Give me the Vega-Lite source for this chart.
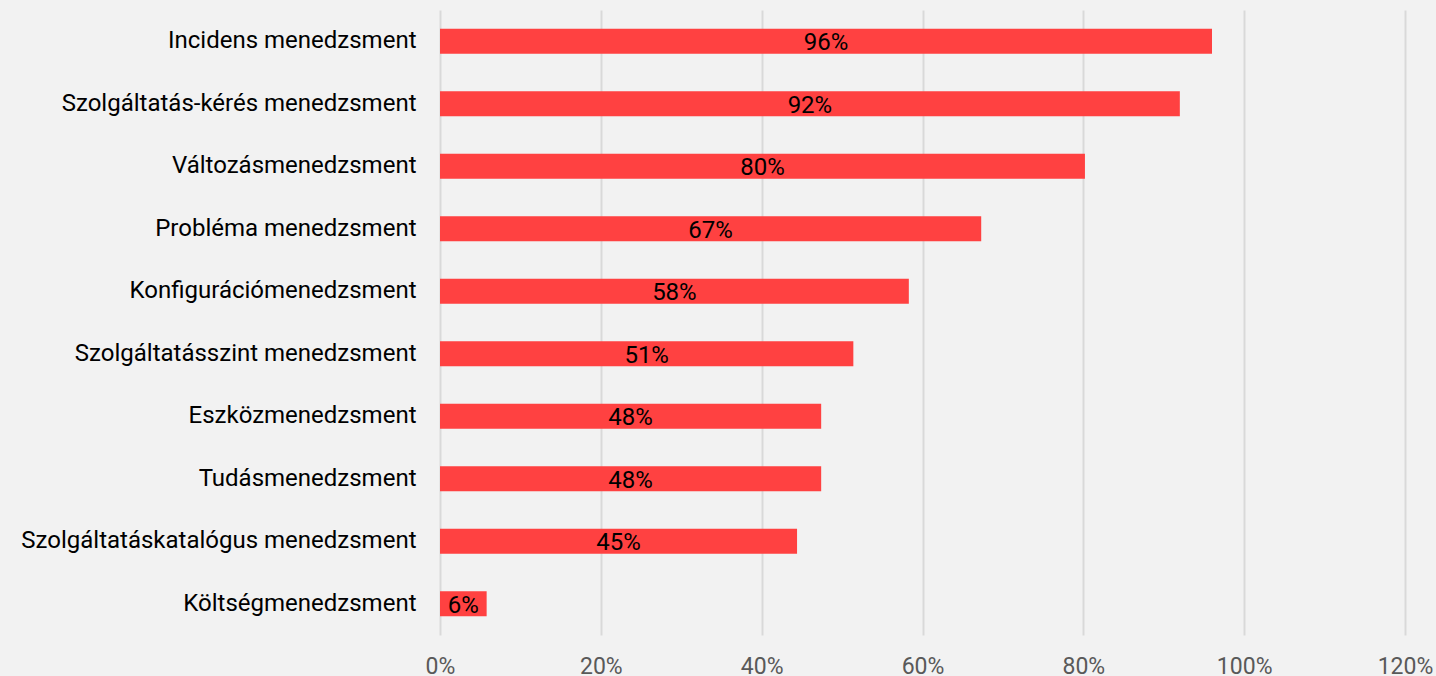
{
  "$schema": "https://vega.github.io/schema/vega-lite/v6.json",
  "autosize": "none",
  "width": 965,
  "height": 625,
  "padding": {"left": 440, "top": 10, "right": 31, "bottom": 41},
  "background": "#f2f2f2",
  "config": {
    "font": "Roboto",
    "view": {"stroke": null},
    "axis": {"labelFont": "Roboto"}
  },
  "data": {
    "values": [
      {"process": "Incidens menedzsment", "share": 0.96, "label": "96%"},
      {"process": "Szolgáltatás-kérés menedzsment", "share": 0.92, "label": "92%"},
      {"process": "Változásmenedzsment", "share": 0.802, "label": "80%"},
      {"process": "Probléma menedzsment", "share": 0.673, "label": "67%"},
      {"process": "Konfigurációmenedzsment", "share": 0.583, "label": "58%"},
      {"process": "Szolgáltatásszint menedzsment", "share": 0.514, "label": "51%"},
      {"process": "Eszközmenedzsment", "share": 0.474, "label": "48%"},
      {"process": "Tudásmenedzsment", "share": 0.474, "label": "48%"},
      {"process": "Szolgáltatáskatalógus menedzsment", "share": 0.444, "label": "45%"},
      {"process": "Költségmenedzsment", "share": 0.058, "label": "6%"}
    ]
  },
  "encoding": {
    "y": {
      "field": "process",
      "type": "nominal",
      "sort": null,
      "title": null,
      "scale": {"paddingInner": 0.6, "paddingOuter": 0.3},
      "axis": {
        "domain": false,
        "ticks": false,
        "grid": false,
        "labelFontSize": 24,
        "labelColor": "#000000",
        "labelPadding": 24,
        "labelLimit": 600
      }
    }
  },
  "layer": [
    {
      "mark": {"type": "bar", "color": "#ff4141"},
      "encoding": {
        "x": {
          "field": "share",
          "type": "quantitative",
          "title": null,
          "scale": {"domain": [0, 1.2], "nice": false},
          "axis": {
            "format": ".0%",
            "values": [0, 0.2, 0.4, 0.6, 0.8, 1.0, 1.2],
            "domain": false,
            "ticks": false,
            "grid": true,
            "gridColor": "#d9d9d9",
            "gridWidth": 2,
            "labelFontSize": 23,
            "labelColor": "#595959",
            "labelPadding": 20,
            "labelFlush": false
          }
        }
      }
    },
    {
      "transform": [{"calculate": "datum.share / 2", "as": "labelPos"}],
      "mark": {"type": "text", "fontSize": 24, "color": "#000000", "align": "center", "baseline": "middle", "dy": 2},
      "encoding": {
        "x": {"field": "labelPos", "type": "quantitative"},
        "text": {"field": "label"}
      }
    }
  ]
}
